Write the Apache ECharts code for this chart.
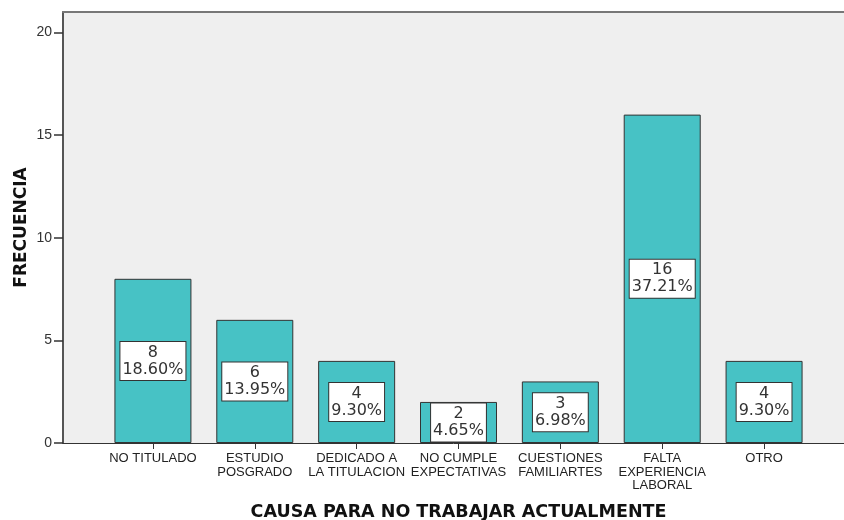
<!DOCTYPE html>
<html>
<head>
<meta charset="utf-8">
<title>Causa para no trabajar actualmente</title>
<script src="https://cdn.jsdelivr.net/npm/echarts@6/dist/echarts.min.js"></script>
<style>
  html, body { margin: 0; padding: 0; background: #fff; }
  #chart { width: 844px; height: 520px; }
</style>
</head>
<body>
<div id="chart"></div>
<script>
// categorias del eje X
const categorias = ['NO TITULADO', 'ESTUDIO\nPOSGRADO', 'DEDICADO A\nLA TITULACION', 'NO CUMPLE\nEXPECTATIVAS', 'CUESTIONES\nFAMILIARTES', 'FALTA\nEXPERIENCIA\nLABORAL', 'OTRO']
// frecuencia de cada causa
const frecuencias = [8, 6, 4, 2, 3, 16, 4]
// porcentaje sobre el total (43)
const porcentajes = ['18.60%', '13.95%', '9.30%', '4.65%', '6.98%', '37.21%', '9.30%']
// marcas del eje Y
const ticksY = [0, 5, 10, 15, 20]
const maxY = 21

const chart = echarts.init(document.getElementById('chart'))

const option = {
  animation: false,
  grid: [
    // fondo gris + eje Y
    { left: 63, right: 0, top: 12, bottom: 77, show: true, backgroundColor: '#efefef', borderWidth: 0, outerBoundsMode: 'none' },
    // zona de las barras
    { left: 102, right: 29, top: 12, bottom: 77, outerBoundsMode: 'none' }
  ],
  xAxis: [
    {
      gridIndex: 0, type: 'value', min: 0, max: 1,
      axisLine: { show: true, lineStyle: { color: '#333', width: 1 } },
      axisTick: { show: false }, axisLabel: { show: false }, splitLine: { show: false }
    },
    {
      gridIndex: 0, type: 'value', min: 0, max: 1, position: 'top',
      axisLine: { show: true, lineStyle: { color: '#777', width: 2 } },
      axisTick: { show: false }, axisLabel: { show: false }, splitLine: { show: false }
    },
    {
      gridIndex: 1, type: 'category', data: categorias,
      axisLine: { show: false },
      axisTick: { show: true, alignWithLabel: true, length: 6, lineStyle: { color: '#333' } },
      axisLabel: {
        interval: 0, margin: 9, color: '#222',
        fontFamily: 'Liberation Sans, Arial', fontSize: 13, lineHeight: 13.5
      },
      name: 'CAUSA PARA NO TRABAJAR ACTUALMENTE',
      nameLocation: 'middle', nameGap: 60, nameMoveOverlap: false,
      nameTextStyle: { fontFamily: 'DejaVu Sans', fontWeight: 'bold', fontSize: 17.5, color: '#111' }
    }
  ],
  yAxis: [
    {
      gridIndex: 0, type: 'value', min: 0, max: maxY,
      axisLine: { show: true, lineStyle: { color: '#555', width: 2 } },
      axisTick: { show: true, length: 9, customValues: ticksY, lineStyle: { color: '#333', width: 1.5 } },
      axisLabel: { margin: 11, customValues: ticksY, color: '#333', fontFamily: 'Liberation Sans, Arial', fontSize: 14 },
      splitLine: { show: false },
      name: 'FRECUENCIA',
      nameLocation: 'middle', nameRotate: 90, nameGap: 33, nameMoveOverlap: false,
      nameTextStyle: { fontFamily: 'DejaVu Sans', fontWeight: 'bold', fontSize: 17, color: '#111' }
    },
    {
      gridIndex: 1, type: 'value', min: 0, max: maxY, show: false
    }
  ],
  series: [
    {
      type: 'bar',
      xAxisIndex: 2, yAxisIndex: 1,
      data: frecuencias,
      barWidth: 77,
      itemStyle: { color: '#47c2c5', borderColor: '#333', borderWidth: 1 },
      label: {
        show: true,
        position: 'inside',
        formatter: p => p.value + '\n' + porcentajes[p.dataIndex],
        fontFamily: 'DejaVu Sans', fontSize: 16, lineHeight: 17, color: '#333',
        backgroundColor: '#fff', borderColor: '#333', borderWidth: 1,
        padding: [3, 2, 1, 2]
      }
    }
  ]
}

chart.setOption(option)
</script>
</body>
</html>
